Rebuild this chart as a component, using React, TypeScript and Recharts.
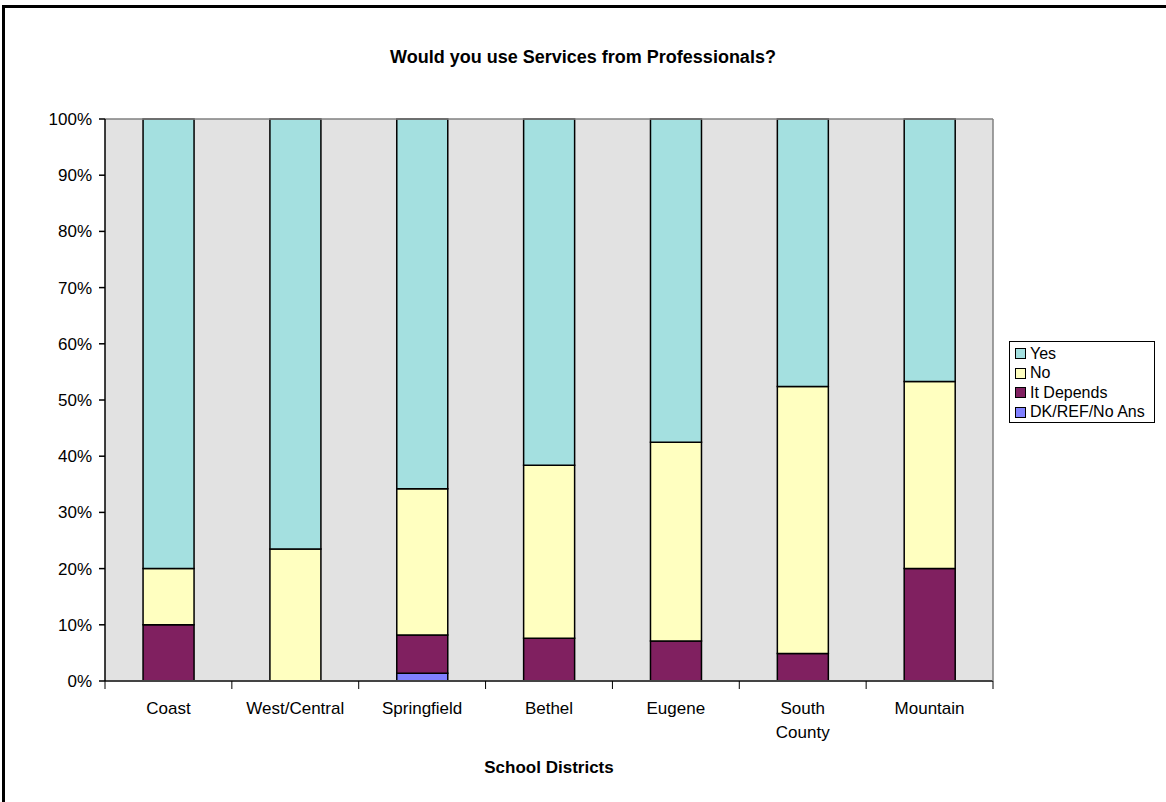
import React from 'react';
import { Bar, BarChart, XAxis, YAxis, CartesianGrid, Legend, Label, ReferenceLine, Text } from 'recharts';

const categories = ['Coast', 'West/Central', 'Springfield', 'Bethel', 'Eugene', 'South County', 'Mountain'];
const yesValues = [80, 76.5, 65.8, 61.6, 57.5, 47.6, 46.7];
const noValues = [10, 23.5, 26.0, 30.8, 35.4, 47.5, 33.3];
const dependsValues = [10, 0, 6.8, 7.6, 7.1, 4.9, 20];
const dkValues = [0, 0, 1.4, 0, 0, 0, 0];
const yTicks = [0, 10, 20, 30, 40, 50, 60, 70, 80, 90, 100];

const series = [
    { key: 'Yes', color: '#A4E0E0' },
    { key: 'No', color: '#FFFFC0' },
    { key: 'It Depends', color: '#802060' },
    { key: 'DK/REF/No Ans', color: '#8080FF' },
];

const chartData = categories.map((name, i) => ({
    name,
    'DK/REF/No Ans': dkValues[i],
    'It Depends': dependsValues[i],
    No: noValues[i],
    Yes: yesValues[i],
}));

const FONT = '"Liberation Sans", Arial, sans-serif';

function CategoryTick(props: any) {
    const { x, y, payload, index, visibleTicksCount } = props;
    // half band width from the axis scale, so the marks sit between categories
    const half = payload.offset || 0;
    const isLast = index === visibleTicksCount - 1;
    return (
        <g>
            <line x1={x - half} x2={x - half} y1={y} y2={y + 8} stroke="#000" strokeWidth={1} />
            {isLast && <line x1={x + half} x2={x + half} y1={y} y2={y + 8} stroke="#000" strokeWidth={1} />}
            <Text
                x={x}
                y={y + 21}
                width={75}
                textAnchor="middle"
                verticalAnchor="start"
                lineHeight={24}
                style={{ fontSize: 17, fontFamily: FONT }}
                fill="#000"
            >
                {payload.value}
            </Text>
        </g>
    );
}

function LegendBox() {
    return (
        <div
            style={{
                width: 144,
                height: 78,
                border: '1px solid #000',
                background: '#fff',
                fontFamily: FONT,
                fontSize: 16,
                paddingTop: 2,
                boxSizing: 'content-box',
            }}
        >
            {series.map((s) => (
                <div key={s.key} style={{ height: 19.5, display: 'flex', alignItems: 'center', whiteSpace: 'nowrap' }}>
                    <span
                        style={{
                            display: 'inline-block',
                            width: 9,
                            height: 9,
                            marginLeft: 5,
                            marginRight: 4,
                            background: s.color,
                            border: '1px solid #000',
                        }}
                    />
                    <span>{s.key}</span>
                </div>
            ))}
        </div>
    );
}

export default function App() {
    return (
        <div style={{ position: 'absolute', left: 0, top: 0, width: 1166, height: 802, background: '#fff', overflow: 'hidden' }}>
            <div
                style={{
                    position: 'absolute',
                    left: 2,
                    top: 5,
                    width: 1200,
                    height: 900,
                    borderLeft: '3px solid #000',
                    borderTop: '3px solid #000',
                }}
            />
            <div
                style={{
                    position: 'absolute',
                    left: 0,
                    top: 47,
                    width: 1166,
                    textAlign: 'center',
                    fontFamily: FONT,
                    fontWeight: 'bold',
                    fontSize: 18,
                }}
            >
                Would you use Services from Professionals?
            </div>
            <div style={{ position: 'absolute', left: 0, top: 0 }}>
                <BarChart
                    width={1166}
                    height={802}
                    data={chartData}
                    margin={{ top: 119, right: 172, left: 0, bottom: 120 }}
                    barCategoryGap="30%"
                >
                    <CartesianGrid fill="#E2E2E2" stroke="none" horizontal={false} vertical={false} />
                    <ReferenceLine y={100} stroke="#808080" strokeWidth={1.5} />
                    <XAxis
                        dataKey="name"
                        height={1}
                        tickLine={false}
                        tickSize={0}
                        tickMargin={0}
                        axisLine={{ stroke: '#444', strokeWidth: 2 }}
                        tick={<CategoryTick />}
                        interval={0}
                    >
                        <Label
                            value="School Districts"
                            position="bottom"
                            offset={79}
                            style={{ fontFamily: FONT, fontWeight: 'bold', fontSize: 17, fill: '#000' }}
                        />
                    </XAxis>
                    <YAxis
                        width={105}
                        domain={[0, 100]}
                        ticks={yTicks}
                        interval={0}
                        tickFormatter={(v) => `${v}%`}
                        tickSize={6}
                        tickMargin={7}
                        tick={{ fontFamily: FONT, fontSize: 17, fill: '#000' }}
                        tickLine={{ stroke: '#000', strokeWidth: 1.5 }}
                        axisLine={{ stroke: '#000', strokeWidth: 1.5 }}
                    />
                    <YAxis
                        yAxisId="right"
                        orientation="right"
                        width={1}
                        tick={false}
                        tickLine={false}
                        axisLine={{ stroke: '#808080', strokeWidth: 1.5 }}
                    />
                    <Legend
                        layout="vertical"
                        align="center"
                        verticalAlign="middle"
                        content={<LegendBox />}
                        wrapperStyle={{ position: 'absolute', left: 1009, top: 341, width: 146 }}
                    />
                    {[...series].reverse().map((s) => (
                        <Bar
                            key={s.key}
                            dataKey={s.key}
                            stackId="a"
                            fill={s.color}
                            stroke="#000"
                            strokeWidth={1.5}
                            isAnimationActive={false}
                        />
                    ))}
                </BarChart>
            </div>
        </div>
    );
}
